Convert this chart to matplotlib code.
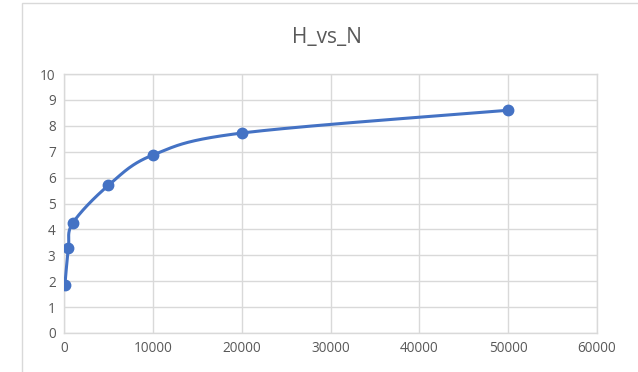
import numpy as np
import matplotlib
matplotlib.use("Agg")
import matplotlib.pyplot as plt
from matplotlib.patches import Rectangle

# Data
N_values = [100, 500, 1000, 5000, 10000, 20000, 50000]
H_values = [1.85, 3.30, 4.25, 5.70, 6.87, 7.72, 8.60]
x_ticks = [0, 10000, 20000, 30000, 40000, 50000, 60000]
y_ticks = [0, 1, 2, 3, 4, 5, 6, 7, 8, 9, 10]
title = "H_vs_N"

line_color = "#4472C4"
grid_color = "#D9D9D9"
text_color = "#595959"

plt.rcParams['font.family'] = ['Open Sans', 'DejaVu Sans']

fig = plt.figure(figsize=(6.38, 3.72), dpi=100)
fig.patch.set_facecolor("white")
ax = fig.add_axes([64/638, 39/372, (597-64)/638, (333-74)/372])

ax.set_xlim(0, 60000)
ax.set_ylim(0, 10)
ax.set_xticks(x_ticks)
ax.set_yticks(y_ticks)
ax.set_xticklabels([str(t) for t in x_ticks])
ax.set_yticklabels([str(t) for t in y_ticks])
ax.grid(True, color=grid_color, linewidth=1.0)
ax.set_axisbelow(True)
for s in ax.spines.values():
    s.set_color(grid_color)
    s.set_linewidth(1.0)
ax.tick_params(length=0, labelsize=9.8, labelcolor=text_color, pad=6)

# Excel-like smooth line (Catmull-Rom Bezier in display space)
fig.canvas.draw()
pts = ax.transData.transform(np.column_stack([N_values, H_values]))
n = len(pts)
curve = []
for i in range(n - 1):
    p0 = pts[i - 1] if i > 0 else pts[i]
    p1 = pts[i]
    p2 = pts[i + 1]
    p3 = pts[i + 2] if i + 2 < n else pts[i + 1]
    c1 = p1 + (p2 - p0) / 6.0
    c2 = p2 - (p3 - p1) / 6.0
    t = np.linspace(0, 1, 40)[:, None]
    seg = ((1 - t) ** 3) * p1 + 3 * ((1 - t) ** 2) * t * c1 + 3 * (1 - t) * t ** 2 * c2 + t ** 3 * p2
    curve.append(seg if i == 0 else seg[1:])
curve = np.vstack(curve)
curve_data = ax.transData.inverted().transform(curve)
ax.plot(curve_data[:, 0], curve_data[:, 1], color=line_color, linewidth=2.2,
        solid_capstyle="round", zorder=3)
ax.plot(N_values, H_values, linestyle="none", marker="o", markersize=7.5,
        color=line_color, zorder=4)

fig.text(327/638, 1 - 37/372, title, ha="center", va="center",
         fontsize=15, color=text_color)

# chart area border
fig.patches.append(Rectangle((22/638, -0.1), 1.2, 1.1 - 3/372,
                             transform=fig.transFigure, fill=False,
                             edgecolor=grid_color, linewidth=1.0))

fig.savefig("out.png", dpi=100, facecolor="white")
